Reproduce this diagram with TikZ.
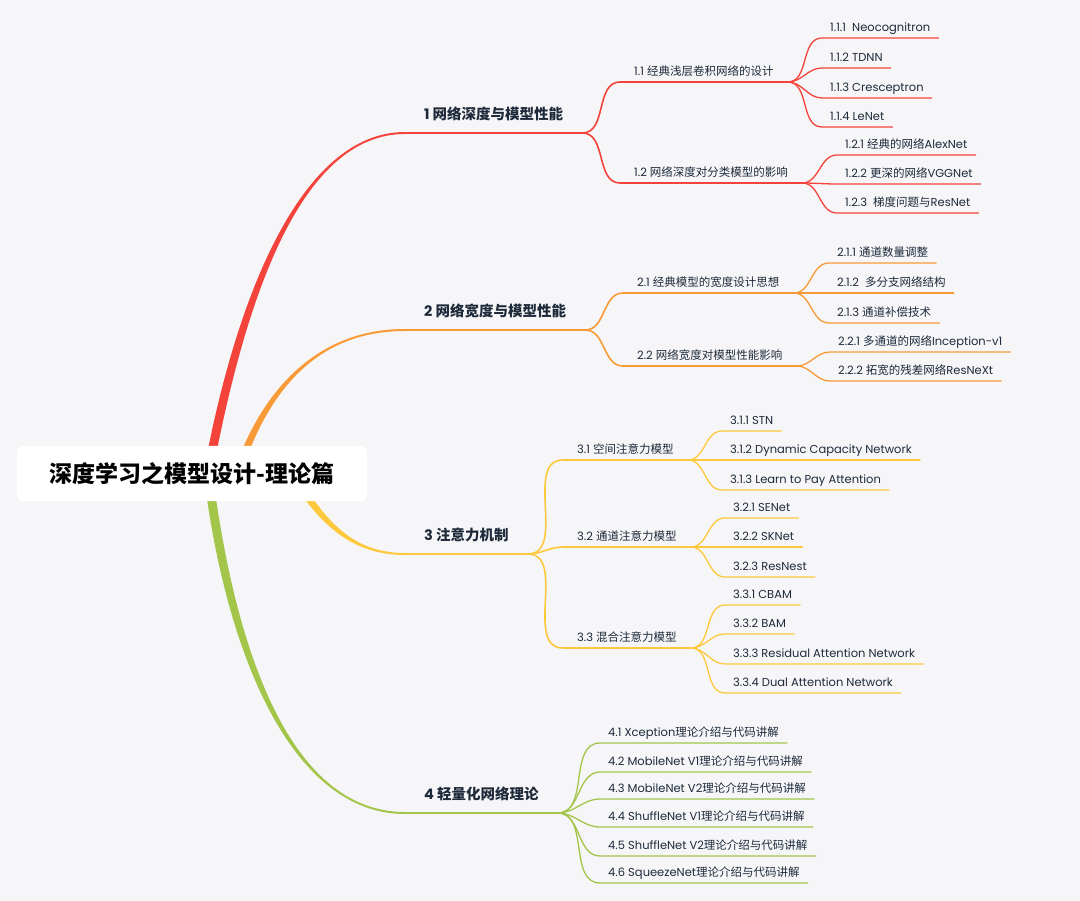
\documentclass[tikz,border=0pt]{standalone}
\usepackage{fontspec}
\setmainfont{Poppins}
\newfontfamily\cjk{Noto Sans CJK SC}
\newcommand{\zh}[1]{{\cjk #1}}
\definecolor{bgcol}{HTML}{F6F6F9}
\definecolor{ink}{HTML}{1E2A3A}
\definecolor{cred}{HTML}{F4433A}
\definecolor{corange}{HTML}{F89A38}
\definecolor{cyellow}{HTML}{FDC83C}
\definecolor{cgreen}{HTML}{A3C54A}
\tikzset{
    rootbox/.style={fill=white, rounded corners=6pt, minimum width=350pt, minimum height=55pt, inner sep=0pt, font=\cjk\bfseries\fontsize{23}{27}\selectfont, text=black},
    mainlbl/.style={anchor=south west, inner xsep=19pt, inner ysep=10pt, text height=11pt, text depth=3pt, font=\bfseries\fontsize{14.5}{16}\selectfont, text=ink},
    sublbl/.style={anchor=south west, inner xsep=14pt, inner ysep=4pt, text height=9pt, text depth=2.5pt, font=\fontsize{11.5}{13}\selectfont, text=ink},
    leaflbl/.style={anchor=south west, inner xsep=8pt, inner ysep=4pt, text height=9pt, text depth=2.5pt, font=\fontsize{11.5}{13}\selectfont, text=ink},
    mainline/.style={line width=2pt, line cap=round},
    subline/.style={line width=1.6pt, line cap=round},
    leafline/.style={line width=1.3pt, line cap=round}
}
\begin{document}
\begin{tikzpicture}[x=1pt,y=-1pt]
\useasboundingbox (0,0) rectangle (1080,901);
\fill[bgcol] (0,0) rectangle (1080,901);

% main topics
\node[mainlbl] (b1) at (405,133) {1 \zh{网络深度与模型性能}};
\node[mainlbl] (b2) at (405,330) {2 \zh{网络宽度与模型性能}};
\node[mainlbl] (b3) at (405,554) {3 \zh{注意力机制}};
\node[mainlbl] (b4) at (405,813) {4 \zh{轻量化网络理论}};

% second level
\node[sublbl] (n11) at (620,82) {1.1 \zh{经典浅层卷积网络的设计}};
\node[sublbl] (n12) at (620,183) {1.2 \zh{网络深度对分类模型的影响}};
\node[sublbl] (n21) at (623,293) {2.1 \zh{经典模型的宽度设计思想}};
\node[sublbl] (n22) at (623,366) {2.2 \zh{网络宽度对模型性能影响}};
\node[sublbl] (n31) at (563,460) {3.1 \zh{空间注意力模型}};
\node[sublbl] (n32) at (563,547) {3.2 \zh{通道注意力模型}};
\node[sublbl] (n33) at (563,648) {3.3 \zh{混合注意力模型}};

% leaves
\node[leaflbl] (l111) at (822,38) {1.1.1~ Neocognitron};
\node[leaflbl] (l112) at (822,68) {1.1.2 TDNN};
\node[leaflbl] (l113) at (822,98) {1.1.3 Cresceptron};
\node[leaflbl] (l114) at (822,127) {1.1.4 LeNet};
\node[leaflbl] (l121) at (837,155) {1.2.1 \zh{经典的网络}AlexNet};
\node[leaflbl] (l122) at (837,184) {1.2.2 \zh{更深的网络}VGGNet};
\node[leaflbl] (l123) at (837,213) {1.2.3~ \zh{梯度问题与}ResNet};
\node[leaflbl] (l211) at (829,263) {2.1.1 \zh{通道数量调整}};
\node[leaflbl] (l212) at (829,293) {2.1.2~ \zh{多分支网络结构}};
\node[leaflbl] (l213) at (829,323) {2.1.3 \zh{通道补偿技术}};
\node[leaflbl] (l221) at (830,352) {2.2.1 \zh{多通道的网络}Inception-v1};
\node[leaflbl] (l222) at (830,381) {2.2.2 \zh{拓宽的残差网络}ResNeXt};
\node[leaflbl] (l311) at (722,431) {3.1.1 STN};
\node[leaflbl] (l312) at (722,460) {3.1.2 Dynamic Capacity Network};
\node[leaflbl] (l313) at (722,490) {3.1.3 Learn to Pay Attention};
\node[leaflbl] (l321) at (725,518) {3.2.1 SENet};
\node[leaflbl] (l322) at (725,547) {3.2.2 SKNet};
\node[leaflbl] (l323) at (725,577) {3.2.3 ResNest};
\node[leaflbl] (l331) at (725,605) {3.3.1 CBAM};
\node[leaflbl] (l332) at (725,634) {3.3.2 BAM};
\node[leaflbl] (l333) at (725,664) {3.3.3 Residual Attention Network};
\node[leaflbl] (l334) at (725,693) {3.3.4 Dual Attention Network};
\node[leaflbl] (l41) at (600,743) {4.1 Xception\zh{理论介绍与代码讲解}};
\node[leaflbl] (l42) at (600,772) {4.2 MobileNet V1\zh{理论介绍与代码讲解}};
\node[leaflbl] (l43) at (600,799) {4.3 MobileNet V2\zh{理论介绍与代码讲解}};
\node[leaflbl] (l44) at (600,827) {4.4 ShuffleNet V1\zh{理论介绍与代码讲解}};
\node[leaflbl] (l45) at (600,856) {4.5 ShuffleNet V2\zh{理论介绍与代码讲解}};
\node[leaflbl] (l46) at (600,883) {4.6 SqueezeNet\zh{理论介绍与代码讲解}};

% tapered main branches (start hidden under the title)
\coordinate (r1) at (208,473);
\coordinate (r2) at (235,480);
\coordinate (r3) at (290,470);
\coordinate (r4) at (208,473);
\fill[cred] ([xshift=-4.5pt]r1) .. controls (235,300) and (300,132) .. ([yshift=1pt]b1.south west)
    -- ([yshift=-1pt]b1.south west) .. controls (300,134) and (245,300) .. ([xshift=4.5pt]r1) -- cycle;
\fill[corange] ([xshift=-4pt]r2) .. controls (256,400) and (310,329) .. ([yshift=1pt]b2.south west)
    -- ([yshift=-1pt]b2.south west) .. controls (310,331) and (264,400) .. ([xshift=4pt]r2) -- cycle;
\fill[cyellow] ([xshift=4pt]r3) .. controls (324,518) and (350,553) .. ([yshift=1pt]b3.south west)
    -- ([yshift=-1pt]b3.south west) .. controls (350,555) and (316,522) .. ([xshift=-4pt]r3) -- cycle;
\fill[cgreen] ([xshift=-4.5pt]r4) .. controls (225,650) and (290,814) .. ([yshift=-1pt]b4.south west)
    -- ([yshift=1pt]b4.south west) .. controls (290,812) and (235,650) .. ([xshift=4.5pt]r4) -- cycle;

% underlines of main topics
\draw[mainline,cred] (b1.south west) -- (b1.south east);
\draw[mainline,corange] (b2.south west) -- (b2.south east);
\draw[mainline,cyellow] (b3.south west) -- (b3.south east);
\draw[mainline,cgreen] (b4.south west) -- (b4.south east);

% second level connectors
\foreach \c in {11,12}
    \draw[subline,cred] (b1.south east) to[out=0,in=180] (n\c.south west) -- (n\c.south east);
\foreach \c in {21,22}
    \draw[subline,corange] (b2.south east) to[out=0,in=180] (n\c.south west) -- (n\c.south east);
\foreach \c in {31,32,33}
    \draw[subline,cyellow] (b3.south east) to[out=0,in=180] (n\c.south west) -- (n\c.south east);

% leaf connectors
\foreach \c in {111,112,113,114}
    \draw[leafline,cred] (n11.south east) to[out=0,in=180] (l\c.south west) -- (l\c.south east);
\foreach \c in {121,122,123}
    \draw[leafline,cred] (n12.south east) to[out=0,in=180] (l\c.south west) -- (l\c.south east);
\foreach \c in {211,212,213}
    \draw[leafline,corange] (n21.south east) to[out=0,in=180] (l\c.south west) -- (l\c.south east);
\foreach \c in {221,222}
    \draw[leafline,corange] (n22.south east) to[out=0,in=180] (l\c.south west) -- (l\c.south east);
\foreach \c in {311,312,313}
    \draw[leafline,cyellow] (n31.south east) to[out=0,in=180] (l\c.south west) -- (l\c.south east);
\foreach \c in {321,322,323}
    \draw[leafline,cyellow] (n32.south east) to[out=0,in=180] (l\c.south west) -- (l\c.south east);
\foreach \c in {331,332,333,334}
    \draw[leafline,cyellow] (n33.south east) to[out=0,in=180] (l\c.south west) -- (l\c.south east);
\foreach \c in {41,42,43,44,45,46}
    \draw[leafline,cgreen] (b4.south east) to[out=0,in=180] (l\c.south west) -- (l\c.south east);

% title
\node[rootbox] (root) at (192,473.5) {深度学习之模型设计-理论篇};
\end{tikzpicture}
\end{document}
